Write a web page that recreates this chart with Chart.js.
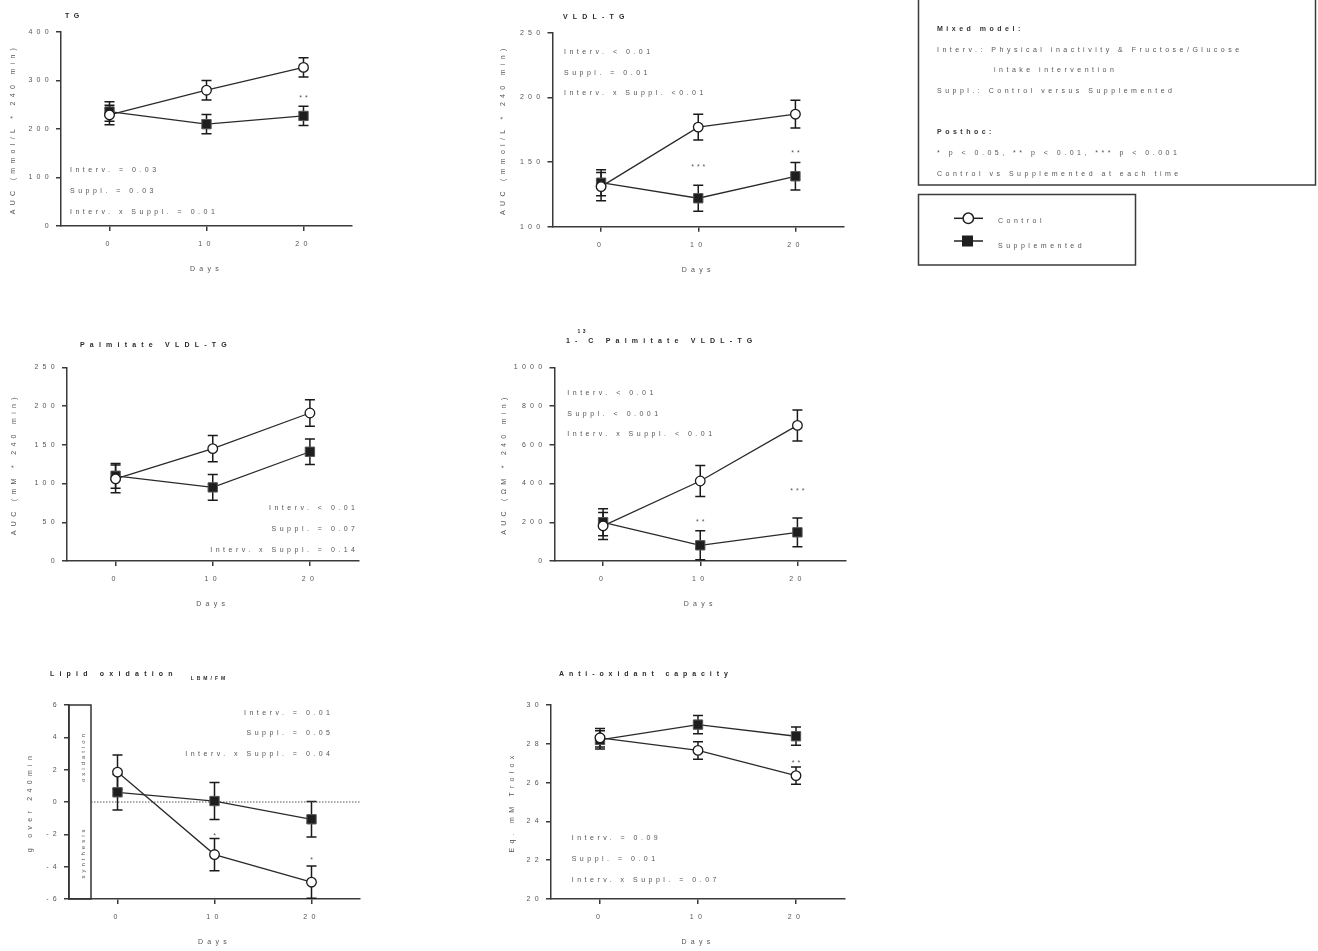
<!DOCTYPE html>
<html><head><meta charset="utf-8">
<script src="https://cdn.jsdelivr.net/npm/chart.js@4.4.0/dist/chart.umd.min.js"></script>
<style>
html,body{margin:0;padding:0;background:#fff;width:1318px;height:951px;overflow:hidden;position:relative;font-family:"Liberation Sans",Arial,sans-serif;}
canvas{position:absolute;}
</style></head><body>
<canvas id="legend" width="403" height="270" style="left:915px;top:0px;width:403px;height:270px;"></canvas>
<script>
// ---------------- DATA ----------------
const days = [0, 10, 20];

const tgControl = [229, 280, 327];
const tgControlErr = [20, 20, 20];
const tgSuppl = [236, 210, 227];
const tgSupplErr = [20, 20, 20];
const tgSig = ['', '', '**'];
const tgSigAt = [null, null, 264];
const tgYTicks = [0, 100, 200, 300, 400];
const tgStats = ['Interv. = 0.03', 'Suppl. = 0.03', 'Interv. x Suppl. = 0.01'];

const vldlControl = [131, 177, 187];
const vldlControlErr = [11, 10, 10.7];
const vldlSuppl = [134, 122, 139];
const vldlSupplErr = [10, 10, 10.7];
const vldlSig = ['', '***', '**'];
const vldlSigAt = [null, 146, 157];
const vldlYTicks = [100, 150, 200, 250];
const vldlStats = ['Interv. < 0.01', 'Suppl. = 0.01', 'Interv. x Suppl. <0.01'];

const palmControl = [106, 145, 191];
const palmControlErr = [18, 17, 17];
const palmSuppl = [110, 95, 141];
const palmSupplErr = [16, 16.5, 16.5];
const palmSig = ['', '', ''];
const palmSigAt = [null, null, null];
const palmYTicks = [0, 50, 100, 150, 200, 250];
const palmStats = ['Interv. < 0.01', 'Suppl. = 0.07', 'Interv. x Suppl. = 0.14'];

const c13Control = [181, 413, 700];
const c13ControlErr = [70, 80, 80];
const c13Suppl = [200, 81, 148];
const c13SupplErr = [70, 75, 74];
const c13Sig = ['', '**', '***'];
const c13SigAt = [null, 203, 363];
const c13YTicks = [0, 200, 400, 600, 800, 1000];
const c13Stats = ['Interv. < 0.01', 'Suppl. < 0.001', 'Interv. x Suppl. < 0.01'];

const lipControl = [1.85, -3.25, -4.96];
const lipControlErr = [1.05, 1.0, 1.0];
const lipSuppl = [0.6, 0.06, -1.07];
const lipSupplErr = [1.1, 1.15, 1.1];
const lipSig = ['', '*', '*'];
const lipSigAt = [null, -2.1, -3.6];
const lipYTicks = [-6, -4, -2, 0, 2, 4, 6];
const lipStats = ['Interv. = 0.01', 'Suppl. = 0.05', 'Interv. x Suppl. = 0.04'];

const antiControl = [28.31, 27.66, 26.36];
const antiControlErr = [0.48, 0.45, 0.45];
const antiSuppl = [28.2, 28.99, 28.39];
const antiSupplErr = [0.47, 0.47, 0.47];
const antiSig = ['', '', '**'];
const antiSigAt = [null, null, 27.0];
const antiYTicks = [20, 22, 24, 26, 28, 30];
const antiStats = ['Interv. = 0.09', 'Suppl. = 0.01', 'Interv. x Suppl. = 0.07'];

const seriesNames = ['Control', 'Supplemented'];
const noteLines = ['Mixed model:', 'Interv.: Physical inactivity & Fructose/Glucose', 'intake intervention',
  'Suppl.: Control versus Supplemented', 'Posthoc:', '* p < 0.05, ** p < 0.01, *** p < 0.001',
  'Control vs Supplemented at each time'];

// ---------------- STYLE ----------------
const AX = '#3a3a3a', TXT = '#555', DARK = '#2a2a2a';
const FAM = '"Liberation Sans", Arial, sans-serif';
const LS = '4.3px';

// ---------------- LEGEND / NOTES BOX ----------------
(function () {
  const ctx = document.getElementById('legend').getContext('2d');
  ctx.strokeStyle = '#3a3a3a'; ctx.lineWidth = 1.5;
  ctx.strokeRect(3.5, -5, 397, 190);
  ctx.strokeRect(3.5, 194.5, 217, 70.5);
  ctx.textBaseline = 'middle'; ctx.textAlign = 'left';
  const pos = [[22, 28.7, true], [22, 50.3], [79, 70.3], [22, 90.7], [22, 132, true], [22, 152.7], [22, 173.7]];
  noteLines.forEach((t, i) => {
    const [x, y, b] = pos[i];
    ctx.font = (b ? 'bold ' : '') + '7px ' + FAM;
    ctx.fillStyle = b ? '#333' : TXT;
    ctx.letterSpacing = '3.5px';
    ctx.fillText(t, x, y);
  });
  // markers
  ctx.strokeStyle = '#222'; ctx.lineWidth = 1.5;
  ctx.beginPath(); ctx.moveTo(39, 218.3); ctx.lineTo(68, 218.3); ctx.stroke();
  ctx.beginPath(); ctx.arc(53.3, 218.3, 5.2, 0, Math.PI * 2); ctx.fillStyle = '#fff'; ctx.fill(); ctx.stroke();
  ctx.beginPath(); ctx.moveTo(39, 241); ctx.lineTo(68, 241); ctx.stroke();
  ctx.fillStyle = '#1e1e1e'; ctx.fillRect(47, 235.5, 11, 11);
  ctx.font = '7px ' + FAM; ctx.fillStyle = TXT; ctx.letterSpacing = '3.5px';
  ctx.fillText(seriesNames[0], 83, 220.7);
  ctx.fillText(seriesNames[1], 83, 246);
})();

const spacingPlugin = {
  id: 'ls',
  beforeLayout(c) { c.ctx.letterSpacing = LS; },
  beforeDraw(c) { c.ctx.letterSpacing = LS; }
};

const errorBarPlugin = {
  id: 'errbars',
  beforeDatasetsDraw(chart) {
    const ctx = chart.ctx, ys = chart.scales.y, xs = chart.scales.x;
    ctx.save();
    ctx.strokeStyle = '#1a1a1a'; ctx.lineWidth = 1.5;
    chart.data.datasets.forEach(ds => {
      ds.data.forEach((p, i) => {
        const e = ds.errors[i];
        const x = xs.getPixelForValue(p.x);
        const y1 = ys.getPixelForValue(p.y + e), y2 = ys.getPixelForValue(p.y - e);
        ctx.beginPath();
        ctx.moveTo(x, y1); ctx.lineTo(x, y2);
        ctx.moveTo(x - 5, y1); ctx.lineTo(x + 5, y1);
        ctx.moveTo(x - 5, y2); ctx.lineTo(x + 5, y2);
        ctx.stroke();
      });
    });
    ctx.restore();
  }
};

const decoPlugin = {
  id: 'deco',
  beforeDatasetsDraw(chart) {
    const cfg = chart.options.plugins.deco;
    if (!cfg.lipid) return;
    const ctx = chart.ctx, a = chart.chartArea, ys = chart.scales.y;
    ctx.save();
    ctx.strokeStyle = '#555'; ctx.lineWidth = 1; ctx.setLineDash([1.5, 1.5]);
    const y0 = ys.getPixelForValue(0);
    ctx.beginPath(); ctx.moveTo(a.left + 22, y0); ctx.lineTo(a.right, y0); ctx.stroke();
    ctx.setLineDash([]);
    ctx.strokeStyle = '#333'; ctx.lineWidth = 1.5;
    ctx.strokeRect(a.left, a.top, 22, a.bottom - a.top);
    ctx.fillStyle = TXT; ctx.font = '6px ' + FAM; ctx.letterSpacing = '3px';
    ctx.textAlign = 'center'; ctx.textBaseline = 'middle';
    [['oxidation', 53], ['synthesis', 149]].forEach(([t, dy]) => {
      ctx.save(); ctx.translate(a.left + 14.5, a.top + dy); ctx.rotate(-Math.PI / 2);
      ctx.fillText(t, 1.5, 0); ctx.restore();
    });
    ctx.restore();
  },
  afterDraw(chart) {
    const cfg = chart.options.plugins.deco;
    const ctx = chart.ctx, xs = chart.scales.x, ys = chart.scales.y;
    ctx.save();
    ctx.textBaseline = 'middle';
    cfg.title.forEach(p => {
      ctx.font = (p.bold ? 'bold ' : '') + p.size + 'px ' + FAM;
      ctx.letterSpacing = p.ls + 'px';
      ctx.fillStyle = DARK; ctx.textAlign = 'left';
      ctx.fillText(p.text, p.x - cfg.x0, p.y - cfg.y0);
    });
    ctx.font = '7px ' + FAM; ctx.letterSpacing = '3.5px'; ctx.fillStyle = TXT;
    cfg.stats.forEach((s, i) => {
      const y = cfg.statY[i] - cfg.y0;
      if (cfg.statAlign === 'right') {
        ctx.textAlign = 'right'; ctx.fillText(s, cfg.statX - cfg.x0 + 3.5, y);
      } else {
        ctx.textAlign = 'left'; ctx.fillText(s, cfg.statX - cfg.x0, y);
      }
    });
    ctx.textAlign = 'center'; ctx.letterSpacing = '3px';
    cfg.sig.forEach((s, i) => {
      if (!s) return;
      ctx.fillText(s, xs.getPixelForValue(days[i]) + 1.5, ys.getPixelForValue(cfg.sigAt[i]));
    });
    ctx.restore();
  }
};

function panel(c) {
  const cv = document.createElement('canvas');
  cv.width = c.W; cv.height = c.H;
  cv.style.left = c.x0 + 'px'; cv.style.top = c.y0 + 'px';
  cv.style.width = c.W + 'px'; cv.style.height = c.H + 'px';
  document.body.appendChild(cv);
  const font = { family: FAM, size: 7 };
  const xH = c.y0 + c.H - c.B;
  new Chart(cv, {
    type: 'line',
    data: {
      datasets: [
        { label: seriesNames[0], data: days.map((d, i) => ({ x: d, y: c.control[i] })), errors: c.controlErr,
          borderColor: '#2a2a2a', borderWidth: 1.3, pointStyle: 'circle', pointRadius: 4.8,
          pointBackgroundColor: '#fff', pointBorderColor: '#1a1a1a', pointBorderWidth: 1.3, tension: 0 },
        { label: seriesNames[1], data: days.map((d, i) => ({ x: d, y: c.suppl[i] })), errors: c.supplErr,
          borderColor: '#2a2a2a', borderWidth: 1.3, pointStyle: 'rect', pointRadius: 6.6,
          pointBackgroundColor: '#1e1e1e', pointBorderColor: '#555', pointBorderWidth: 1, tension: 0 }
      ]
    },
    options: {
      responsive: false, animation: false, events: [],
      layout: { padding: { left: 0, top: c.T - c.y0, right: c.x0 + c.W - c.R, bottom: 0 } },
      plugins: {
        legend: { display: false }, tooltip: { enabled: false },
        deco: { x0: c.x0, y0: c.y0, title: c.title, stats: c.stats, statX: c.statX, statY: c.statY,
                statAlign: c.statAlign, sig: c.sig, sigAt: c.sigAt, lipid: !!c.lipid }
      },
      scales: {
        x: {
          type: 'linear', min: -5, max: 25,
          afterBuildTicks: s => { s.ticks = days.map(v => ({ value: v })); },
          afterFit: s => { s.height = xH; },
          grid: { drawOnChartArea: false, drawTicks: true, tickLength: 5, color: AX, lineWidth: 1.5 },
          border: { display: true, color: AX, width: 1.5 },
          ticks: { padding: 9, color: TXT, font, maxRotation: 0, autoSkip: false, callback: v => String(v) },
          title: { display: true, text: 'Days', color: TXT, font, padding: { top: 0, bottom: xH - 43 - 4.2 } }
        },
        y: {
          type: 'linear', min: c.yTicks[0], max: c.yTicks[c.yTicks.length - 1],
          afterBuildTicks: s => { s.ticks = c.yTicks.map(v => ({ value: v })); },
          afterFit: s => { s.width = c.L - c.x0; },
          grid: { drawOnChartArea: false, drawTicks: true, tickLength: 5, color: AX, lineWidth: 1.5 },
          border: { display: true, color: AX, width: 1.5 },
          ticks: { padding: 3, color: TXT, font, autoSkip: false, callback: v => String(v) },
          title: { display: true, text: c.yTitle, color: TXT, font, padding: { top: c.ytx - c.x0 - 4.2, bottom: 0 } }
        }
      }
    },
    plugins: [spacingPlugin, errorBarPlugin, decoPlugin]
  });
}

panel({ x0: 0, y0: 0, W: 440, H: 276, L: 61, R: 352, T: 32, B: 226, ytx: 13,
  control: tgControl, controlErr: tgControlErr, suppl: tgSuppl, supplErr: tgSupplErr,
  sig: tgSig, sigAt: tgSigAt, yTicks: tgYTicks, stats: tgStats,
  statAlign: 'left', statX: 70, statY: [170, 191, 212],
  yTitle: 'AUC (mmol/L * 240 min)',
  title: [{ text: 'TG', x: 65, y: 16, size: 7, bold: true, ls: 4.5 }] });

panel({ x0: 490, y0: 0, W: 400, H: 277, L: 552.5, R: 844, T: 32.7, B: 226.7, ytx: 503.5,
  control: vldlControl, controlErr: vldlControlErr, suppl: vldlSuppl, supplErr: vldlSupplErr,
  sig: vldlSig, sigAt: vldlSigAt, yTicks: vldlYTicks, stats: vldlStats,
  statAlign: 'left', statX: 564, statY: [51.7, 72.7, 93.3],
  yTitle: 'AUC (mmol/L * 240 min)',
  title: [{ text: 'VLDL-TG', x: 563, y: 16.7, size: 7, bold: true, ls: 5.2 }] });

panel({ x0: 0, y0: 325, W: 440, H: 286, L: 67, R: 358.5, T: 367.3, B: 561, ytx: 14.3,
  control: palmControl, controlErr: palmControlErr, suppl: palmSuppl, supplErr: palmSupplErr,
  sig: palmSig, sigAt: palmSigAt, yTicks: palmYTicks, stats: palmStats,
  statAlign: 'right', statX: 355, statY: [508, 528.7, 549.7],
  yTitle: 'AUC (mM * 240 min)',
  title: [{ text: 'Palmitate VLDL-TG', x: 80, y: 345, size: 7, bold: true, ls: 5.2 }] });

panel({ x0: 490, y0: 325, W: 400, H: 286, L: 554.5, R: 846, T: 367.3, B: 561, ytx: 504,
  control: c13Control, controlErr: c13ControlErr, suppl: c13Suppl, supplErr: c13SupplErr,
  sig: c13Sig, sigAt: c13SigAt, yTicks: c13YTicks, stats: c13Stats,
  statAlign: 'left', statX: 567.3, statY: [393.3, 414.3, 434.3],
  yTitle: 'AUC (ΩM * 240 min)',
  title: [{ text: '1-', x: 566, y: 340.7, size: 7, bold: true, ls: 5.2 },
          { text: '13', x: 577.5, y: 332, size: 5, bold: true, ls: 2.5 },
          { text: 'C Palmitate VLDL-TG', x: 588.3, y: 340.7, size: 7, bold: true, ls: 5.2 }] });

panel({ x0: 0, y0: 665, W: 440, H: 284, L: 69, R: 360, T: 705, B: 899, ytx: 30,
  control: lipControl, controlErr: lipControlErr, suppl: lipSuppl, supplErr: lipSupplErr,
  sig: lipSig, sigAt: lipSigAt, yTicks: lipYTicks, stats: lipStats,
  statAlign: 'right', statX: 330, statY: [712.7, 733.3, 754],
  yTitle: 'g over 240min', lipid: true,
  title: [{ text: 'Lipid oxidation', x: 50, y: 674.3, size: 7, bold: true, ls: 5.2 },
          { text: 'LBM/FM', x: 190.7, y: 678.5, size: 5, bold: true, ls: 3 }] });

panel({ x0: 490, y0: 665, W: 400, H: 284, L: 551, R: 845, T: 705, B: 899, ytx: 511.7,
  control: antiControl, controlErr: antiControlErr, suppl: antiSuppl, supplErr: antiSupplErr,
  sig: antiSig, sigAt: antiSigAt, yTicks: antiYTicks, stats: antiStats,
  statAlign: 'left', statX: 571.7, statY: [838, 858.7, 880],
  yTitle: 'Eq. mM Trolox',
  title: [{ text: 'Anti-oxidant capacity', x: 559, y: 674.3, size: 7, bold: true, ls: 4.9 }] });
</script>
</body></html>
